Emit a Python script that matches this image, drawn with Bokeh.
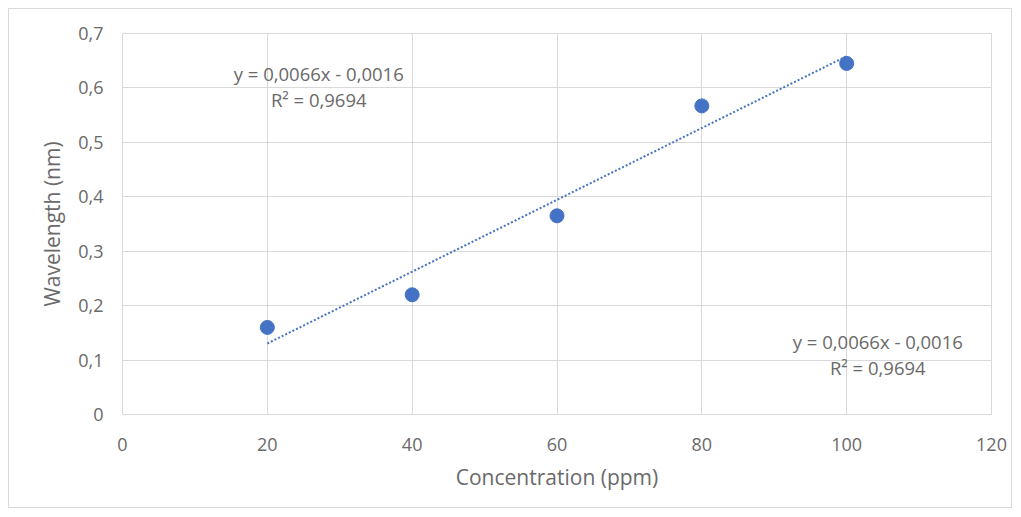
from bokeh.plotting import figure
from bokeh.models import FixedTicker, Label
from bokeh.embed import file_html
from bokeh.resources import INLINE

concentration = [20, 40, 60, 80, 100]
wavelength = [0.160, 0.220, 0.365, 0.567, 0.645]
slope = 0.0066
intercept = -0.0016
equation_text = "y = 0,0066x - 0,0016"
r2_text = "R² = 0,9694"
x_ticks = [0, 20, 40, 60, 80, 100, 120]
y_ticks = [0, 0.1, 0.2, 0.3, 0.4, 0.5, 0.6, 0.7]
y_tick_labels = ["0", "0,1", "0,2", "0,3", "0,4", "0,5", "0,6", "0,7"]

FONT = "Open Sans"
GRAY = "#6a6a6a"
BLUE = "#4472C4"

p = figure(width=1004, height=500, output_backend="svg", toolbar_location=None,
           x_range=(0, 120), y_range=(0, 0.7),
           min_border_left=113, min_border_right=22, min_border_top=24, min_border_bottom=95)
p.styles = {"border": "1px solid #d9d9d9", "margin-left": "8px", "margin-top": "8px"}

p.outline_line_color = "#d9d9d9"
p.outline_line_width = 1
p.background_fill_color = "white"
p.border_fill_color = "white"

for ax in (p.xaxis[0], p.yaxis[0]):
    ax.axis_line_color = None
    ax.major_tick_line_color = None
    ax.minor_tick_line_color = None
    ax.major_label_text_font = FONT
    ax.major_label_text_font_size = "18px"
    ax.major_label_text_color = GRAY
    ax.axis_label_text_font = FONT
    ax.axis_label_text_font_size = "21px"
    ax.axis_label_text_font_style = "normal"
    ax.axis_label_text_color = GRAY

p.xaxis.ticker = FixedTicker(ticks=x_ticks)
p.yaxis.ticker = FixedTicker(ticks=y_ticks)
p.yaxis.major_label_overrides = {t: l for t, l in zip(y_ticks, y_tick_labels)}
p.xaxis.axis_label = "Concentration (ppm)"
p.yaxis.axis_label = "Wavelength (nm)"
p.xaxis.major_label_standoff = 17
p.yaxis.major_label_standoff = 13
p.xaxis.axis_label_standoff = 9
p.yaxis.axis_label_standoff = 9

p.xgrid.grid_line_color = "#d9d9d9"
p.ygrid.grid_line_color = "#d9d9d9"
p.xgrid.grid_line_width = 1
p.ygrid.grid_line_width = 1

xs = [concentration[0], concentration[-1]]
ys = [slope * x + intercept for x in xs]
p.line(xs, ys, line_color=BLUE, line_width=2, line_dash="2 2")

p.scatter(concentration, wavelength, size=14, fill_color=BLUE, line_color=BLUE)

for (lx, ly, txt) in [(27.1, 0.627, equation_text), (27.1, 0.579, r2_text),
                      (104.3, 0.134, equation_text), (104.3, 0.0864, r2_text)]:
    p.add_layout(Label(x=lx, y=ly, text=txt, text_font=FONT, text_font_size="18.5px",
                       text_color=GRAY, text_align="center", text_baseline="middle"))

open("out.html", "w").write(file_html(p, INLINE))
